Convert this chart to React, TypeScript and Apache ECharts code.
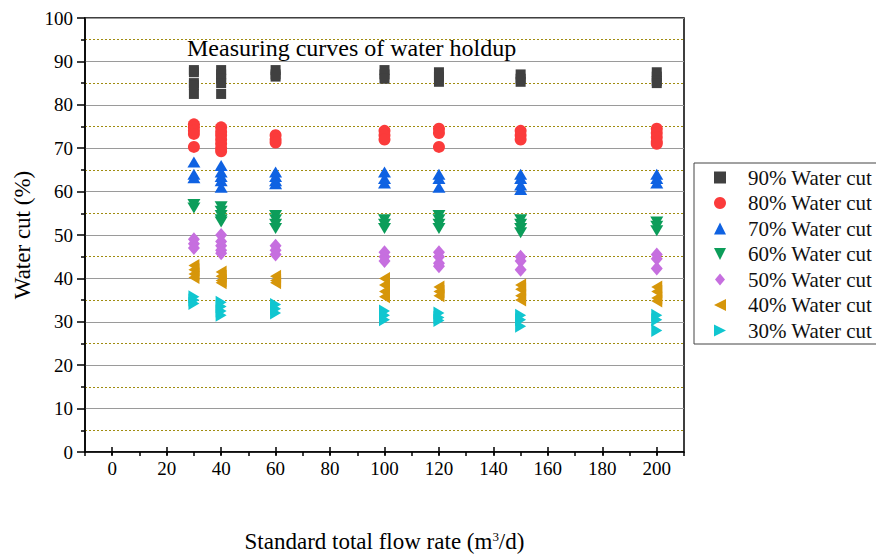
import React, { useEffect, useRef } from 'react';
import * as echarts from 'echarts';

const FONT = 'Liberation Serif, serif';

const FLOW_RATES = [30, 40, 60, 100, 120, 150, 200];
const SERIES_NAMES = [
  '90% Water cut',
  '80% Water cut',
  '70% Water cut',
  '60% Water cut',
  '50% Water cut',
  '40% Water cut',
  '30% Water cut',
];
const COLORS = ['#404040', '#fb3b3b', '#0f62e2', '#0c9d5a', '#c66fdf', '#d6960a', '#10c6d0'];

// measured water cut values at each flow rate (groups follow FLOW_RATES)
const WC90 = [
  [88, 87.5, 85, 84.5, 82.5],
  [88, 87, 86, 85, 82.5],
  [88, 87, 86.5],
  [88, 87, 86],
  [87.5, 86.5, 85.3],
  [87, 86, 85.3],
  [87.5, 86.5, 85.5, 85],
];
const WC80 = [
  [75.5, 74.8, 74, 73.3, 70.3],
  [74.8, 73.8, 73, 72, 71, 70, 69.3],
  [73, 72, 71.3],
  [74, 73, 72],
  [74.5, 73.5, 70.3],
  [74, 73, 72],
  [74.5, 73.5, 72.5, 71.5, 71],
];
const WC70 = [
  [66.8, 64, 63.2],
  [66, 64.5, 63.5, 62.5, 61],
  [64.5, 63.5, 62.5, 61.8],
  [64.5, 63, 62],
  [64, 63, 61],
  [64, 63, 61.5, 60.5],
  [64, 63, 62],
];
const WC60 = [
  [57, 56.2],
  [56.5, 55.5, 54.5, 53.5, 53],
  [54.5, 53.5, 52.5, 51.5],
  [53.5, 52.5, 51.5],
  [54.5, 53.5, 52.5, 51.5],
  [53.5, 52.5, 51.5, 50.5],
  [53, 52, 51],
];
const WC50 = [
  [49, 48, 47],
  [50, 48.5, 47.5, 46.5, 45.8],
  [47.5, 46.5, 45.5],
  [46, 45, 44],
  [46, 45, 43.5, 42.8],
  [45, 44, 42],
  [45.5, 44.5, 42.3],
];
const WC40 = [
  [43, 42, 41, 40.2],
  [41.5, 40.5, 39.5, 39],
  [40.5, 39.5, 39],
  [40, 38.5, 37, 35.8],
  [38, 37, 36],
  [38.5, 37.5, 36, 35],
  [38, 37, 35.5, 34.8],
];
const WC30 = [
  [35.8, 35, 34.2],
  [34.5, 33.5, 32.5, 31.5],
  [34, 33, 32],
  [32.5, 31.5, 30.5],
  [32, 31, 30.3],
  [31.5, 30.5, 29],
  [31.5, 30.5, 28],
];

const SQUARE = 'path://M0,0H10V10H0Z';
const CIRCLE = 'circle';
const UP = 'path://M0,10L5,0L10,10Z';
const DOWN = 'path://M0,0L10,0L5,10Z';
const DIAMOND = 'path://M5,0L10,6L5,12L0,6Z';
const LEFT = 'path://M10,0L10,10L0,5Z';
const RIGHT = 'path://M0,0L10,5L0,10Z';

const GROUPS = [WC90, WC80, WC70, WC60, WC50, WC40, WC30];
const SYMBOLS = [SQUARE, CIRCLE, UP, DOWN, DIAMOND, LEFT, RIGHT];
const SIZES: (number | number[])[] = [10, 12, [13, 11], [13, 11], [12, 14], [11, 13], [11, 13]];

function toPoints(groups: number[][]) {
  const pts: number[][] = [];
  groups.forEach((vals, i) => vals.forEach((v) => pts.push([FLOW_RATES[i], v])));
  return pts;
}

export default function App() {
  const ref = useRef<HTMLDivElement>(null);
  useEffect(() => {
    if (!ref.current) return;
    const chart = echarts.init(ref.current, undefined, { renderer: 'svg' });
    const W = 876;
    const gl = 85;
    const gr = 192;
    const ppu = (W - gl - gr) / 220;
    const option: any = {
      animation: false,
      backgroundColor: '#fff',
      textStyle: { fontFamily: FONT },
      title: {
        text: 'Measuring curves of water holdup',
        left: 182,
        top: 31,
        textStyle: { fontSize: 24, fontWeight: 'normal', color: '#000', fontFamily: FONT },
      },
      legend: {
        orient: 'vertical',
        left: 694,
        top: 163,
        itemWidth: 46,
        itemHeight: 12,
        itemGap: 4.5,
        padding: [4, 24, 3, 20],
        borderColor: '#444',
        borderWidth: 1,
        textStyle: { fontSize: 21, lineHeight: 20, fontFamily: FONT, color: '#111' },
        data: SERIES_NAMES,
      },
      grid: [
        { left: gl, right: gr, top: 18, bottom: 106, show: true, borderColor: '#000', borderWidth: 1.5, backgroundColor: 'transparent' },
        { left: gl + 10 * ppu, right: gr + 10 * ppu, top: 18, bottom: 106, show: false },
      ],
      xAxis: [
        {
          gridIndex: 0,
          type: 'value',
          min: -10,
          max: 210,
          interval: 10,
          axisLine: { show: true, onZero: false, lineStyle: { color: '#000', width: 1.5 } },
          axisTick: { show: true, length: 4, lineStyle: { color: '#000', width: 1.5 } },
          axisLabel: { show: false },
          splitLine: { show: false },
        },
        {
          gridIndex: 1,
          type: 'value',
          min: 0,
          max: 200,
          interval: 20,
          axisLine: { show: false, onZero: false },
          axisTick: { show: true, length: 8, lineStyle: { color: '#000', width: 1.5 } },
          axisLabel: { fontSize: 19, color: '#000', fontFamily: FONT, margin: 12 },
          splitLine: { show: false },
          name: 'Standard total flow rate (m{sup|3}/d)',
          nameLocation: 'middle',
          nameGap: 83,
          nameTextStyle: {
            fontSize: 23,
            color: '#000',
            fontFamily: FONT,
            rich: {
              sup: { fontSize: 13, fontFamily: FONT, color: '#000', verticalAlign: 'top', padding: [0, 0, 8, 0] },
            },
          },
        },
      ],
      yAxis: [
        {
          gridIndex: 0,
          type: 'value',
          min: 0,
          max: 100,
          interval: 10,
          axisLine: { show: true, onZero: false, lineStyle: { color: '#000', width: 1.5 } },
          axisTick: { show: true, length: 8, lineStyle: { color: '#000', width: 1.5 } },
          minorTick: { show: true, splitNumber: 2, length: 4, lineStyle: { color: '#000', width: 1.5 } },
          splitLine: { show: true, lineStyle: { color: '#9a9a9a', width: 1 } },
          minorSplitLine: { show: true, lineStyle: { color: '#a08c10', width: 1, type: [2, 2] } },
          axisLabel: { fontSize: 19, color: '#000', fontFamily: FONT, margin: 12 },
          name: 'Water cut (%)',
          nameLocation: 'middle',
          nameGap: 45,
          nameTextStyle: { fontSize: 23, color: '#000', fontFamily: FONT },
        },
        { gridIndex: 1, type: 'value', min: 0, max: 100, show: false },
      ],
      series: GROUPS.map((g, i) => ({
        name: SERIES_NAMES[i],
        type: 'scatter',
        xAxisIndex: 0,
        yAxisIndex: 0,
        symbol: SYMBOLS[i],
        symbolSize: SIZES[i],
        itemStyle: { color: COLORS[i], opacity: 1 },
        emphasis: { disabled: true },
        silent: true,
        data: toPoints(g),
      })),
    };
    chart.setOption(option);
    return () => chart.dispose();
  }, []);
  return (
    <div
      ref={ref}
      style={{ position: 'absolute', left: 0, top: 0, width: 876, height: 558, background: '#fff' }}
    />
  );
}
